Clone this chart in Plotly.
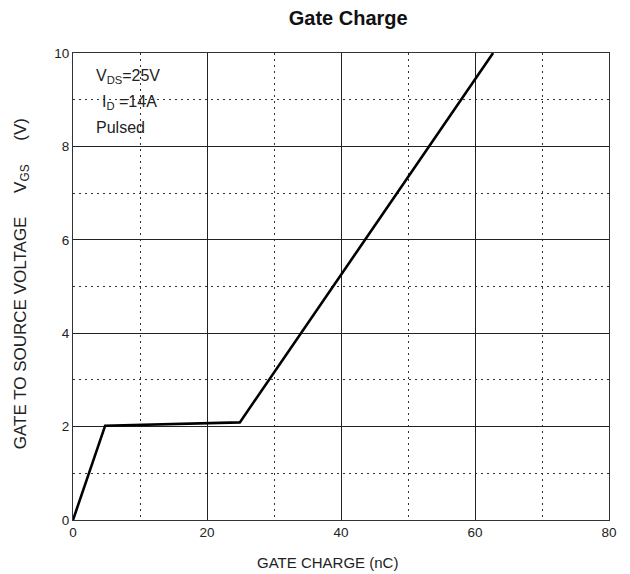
import plotly.graph_objects as go

# Data
gate_charge_nc = [0, 4.8, 24.9, 62.7]
vgs_volts = [0, 2.02, 2.09, 10]

x_ticks = [0, 20, 40, 60, 80]
y_ticks = [0, 2, 4, 6, 8, 10]

fig = go.Figure()
fig.add_trace(go.Scatter(
    x=gate_charge_nc, y=vgs_volts, mode="lines",
    line=dict(color="black", width=2.6), showlegend=False, cliponaxis=True,
))

font_family = "Liberation Sans, Arial, sans-serif"
axis_common = dict(
    showline=True, linecolor="#333", linewidth=1.2, mirror=True,
    showgrid=True, gridcolor="#222", gridwidth=1,
    zeroline=False, ticks="", tickfont=dict(family=font_family, size=13.5, color="#222"),
)

fig.update_xaxes(
    range=[0, 80], tickvals=x_ticks, ticktext=[str(v) for v in x_ticks],
    minor=dict(dtick=10, tick0=0, showgrid=True, gridcolor="#333", griddash="2px,4px", gridwidth=1.3),
    **axis_common,
)
fig.update_yaxes(
    range=[0, 10], tickvals=y_ticks, ticktext=[str(v) for v in y_ticks],
    minor=dict(dtick=1, tick0=0, showgrid=True, gridcolor="#333", griddash="2px,4px", gridwidth=1.3),
    **axis_common,
)

# Axis titles (placed as annotations to match reference positions)
fig.add_annotation(xref="paper", yref="paper", x=0.474, y=-0.092, xanchor="center", yanchor="middle",
                   text="GATE CHARGE (nC)", showarrow=False,
                   font=dict(family=font_family, size=15, color="#222"))
fig.add_annotation(xref="paper", yref="paper", x=-0.096, y=0.506, xanchor="center", yanchor="middle",
                   textangle=-90, text="GATE TO SOURCE VOLTAGE     V<sub>GS</sub>     (V)", showarrow=False,
                   font=dict(family=font_family, size=17, color="#222"))

ann_font = dict(family=font_family, size=16, color="#222")
fig.add_annotation(xref="x", yref="y", x=3.2, y=9.5, xanchor="left", yanchor="middle",
                   text="V<sub>DS</sub>=25V", showarrow=False, font=ann_font)
fig.add_annotation(xref="x", yref="y", x=4.0, y=8.93, xanchor="left", yanchor="middle",
                   text="I<sub>D</sub> =14A", showarrow=False, font=ann_font)
fig.add_annotation(xref="x", yref="y", x=3.2, y=8.4, xanchor="left", yanchor="middle",
                   text="Pulsed", showarrow=False, font=ann_font)

fig.update_layout(
    width=630, height=574,
    margin=dict(l=65, r=29, t=45, b=62),
    paper_bgcolor="white", plot_bgcolor="white",
    title=dict(text="<b>Gate Charge</b>", x=0.54, xanchor="center", y=0.995, yanchor="top",
               font=dict(family=font_family, size=20, color="#111")),
)

fig.write_html("out.html")
